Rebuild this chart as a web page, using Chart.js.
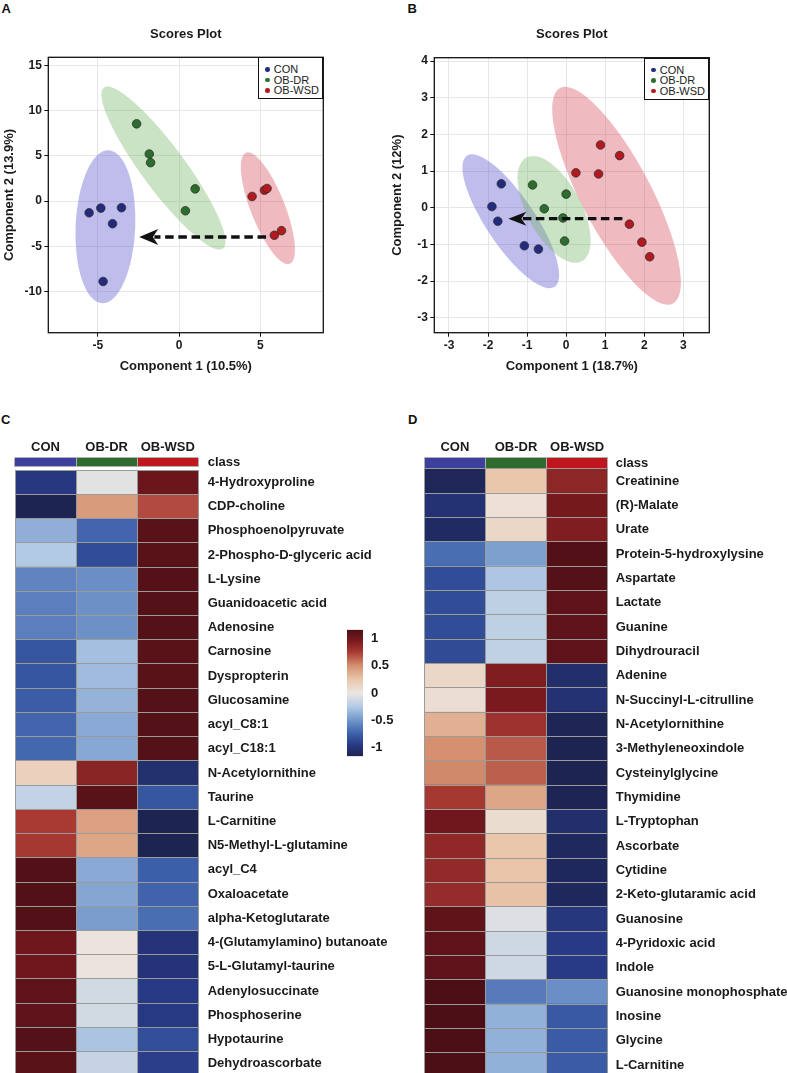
<!DOCTYPE html>
<html>
<head>
<meta charset="utf-8">
<script src="https://cdn.jsdelivr.net/npm/chart.js@4.4.1/dist/chart.umd.min.js"></script>
<style>
html,body{margin:0;padding:0;background:#fff;overflow:hidden;}
#root{position:relative;width:787px;height:1073px;overflow:hidden;background:#fff;}
canvas{position:absolute;}
.plabel{position:absolute;font:bold 13px "Liberation Sans",Arial,Helvetica,sans-serif;line-height:13px;color:#111;}
.legend{position:absolute;border:1.2px solid #111;background:#fff;box-sizing:border-box;font:11px "Liberation Sans",Arial,Helvetica,sans-serif;color:#222;}
.legend .dot{position:absolute;width:4.6px;height:4.6px;border-radius:50%;}
.legend .txt{position:absolute;line-height:12px;height:12px;white-space:nowrap;}
</style>
</head>
<body>
<div id="root">
  <div class="plabel" style="left:1.5px;top:2px;">A</div>
  <div class="plabel" style="left:407.5px;top:2px;">B</div>
  <div class="plabel" style="left:1px;top:413px;">C</div>
  <div class="plabel" style="left:408px;top:413px;">D</div>
  <canvas id="cA" width="390" height="380" style="left:0;top:0"></canvas>
  <canvas id="cB" width="397" height="380" style="left:390px;top:0"></canvas>
  <canvas id="cClassC" width="400" height="52" style="left:0;top:432px"></canvas>
  <canvas id="cClassD" width="387" height="52" style="left:400px;top:432px"></canvas>
  <canvas id="cHeatC" width="400" height="640" style="left:0;top:453px"></canvas>
  <canvas id="cHeatD" width="387" height="640" style="left:400px;top:453px"></canvas>
  <canvas id="cBar" width="80" height="158" style="left:330px;top:614px"></canvas>
</div>
<script>
// ---------------- DATA ----------------
const groups = ['CON', 'OB-DR', 'OB-WSD'];

// Panel A scores (Component 1, Component 2)
const aCONx = [-5.53, -4.81, -4.09, -3.54, -4.67];
const aCONy = [-1.29, -0.77, -2.50, -0.73, -8.90];
const aDRx  = [-2.61, -1.83, -1.75, 0.99, 0.39];
const aDRy  = [8.56, 5.22, 4.26, 1.36, -1.07];
const aWSDx = [4.49, 5.25, 5.41, 5.86, 6.30];
const aWSDy = [0.52, 1.21, 1.40, -3.78, -3.27];
const arrowAFrom = [5.35, -3.97];
const arrowATo   = [-2.45, -3.97];
const ticksAx = [-5, 0, 5];
const ticksAy = [-10, -5, 0, 5, 10, 15];

// Panel B scores
const bCONx = [-1.66, -1.90, -1.75, -1.07, -0.71];
const bCONy = [0.65, 0.03, -0.37, -1.04, -1.13];
const bDRx  = [-0.86, -0.56, 0.00, -0.08, -0.04];
const bDRy  = [0.62, -0.03, 0.37, -0.28, -0.91];
const bWSDx = [0.25, 0.88, 1.37, 0.83, 1.62, 1.94, 2.14];
const bWSDy = [0.95, 1.71, 1.42, 0.92, -0.45, -0.94, -1.34];
const arrowBFrom = [1.44, -0.30];
const arrowBTo   = [-1.48, -0.30];
const ticksBx = [-3, -2, -1, 0, 1, 2, 3];
const ticksBy = [-3, -2, -1, 0, 1, 2, 3, 4];

// Panel C heatmap
const metabolitesC = ['4-Hydroxyproline','CDP-choline','Phosphoenolpyruvate','2-Phospho-D-glyceric acid','L-Lysine','Guanidoacetic acid','Adenosine','Carnosine','Dyspropterin','Glucosamine','acyl_C8:1','acyl_C18:1','N-Acetylornithine','Taurine','L-Carnitine','N5-Methyl-L-glutamine','acyl_C4','Oxaloacetate','alpha-Ketoglutarate','4-(Glutamylamino) butanoate','5-L-Glutamyl-taurine','Adenylosuccinate','Phosphoserine','Hypotaurine','Dehydroascorbate'];
const zC_CON = [-0.97,-1.15,-0.38,-0.25,-0.58,-0.60,-0.60,-0.80,-0.80,-0.76,-0.72,-0.71,0.17,-0.18,0.75,0.76,1.13,1.13,1.13,1.00,1.00,1.08,1.08,1.12,1.10];
const zC_DR  = [-0.04,0.45,-0.72,-0.85,-0.53,-0.52,-0.52,-0.30,-0.32,-0.36,-0.40,-0.41,0.88,1.10,0.42,0.40,-0.40,-0.42,-0.46,0.02,0.02,-0.12,-0.12,-0.28,-0.17];
const zC_WSD = [1.02,0.70,1.10,1.10,1.11,1.12,1.12,1.10,1.10,1.12,1.12,1.12,-1.04,-0.80,-1.15,-1.15,-0.75,-0.73,-0.68,-1.00,-1.00,-0.95,-0.96,-0.84,-0.93];

// Panel D heatmap
const metabolitesD = ['Creatinine','(R)-Malate','Urate','Protein-5-hydroxylysine','Aspartate','Lactate','Guanine','Dihydrouracil','Adenine','N-Succinyl-L-citrulline','N-Acetylornithine','3-Methyleneoxindole','Cysteinylglycine','Thymidine','L-Tryptophan','Ascorbate','Cytidine','2-Keto-glutaramic acid','Guanosine','4-Pyridoxic acid','Indole','Guanosine monophosphate','Inosine','Glycine','L-Carnitine'];
const zD_CON = [-1.12,-1.02,-1.08,-0.68,-0.85,-0.85,-0.85,-0.86,0.12,0.07,0.35,0.50,0.52,0.76,1.00,0.86,0.85,0.84,1.07,1.08,1.08,1.15,1.15,1.15,1.15];
const zD_DR  = [0.25,0.05,0.12,-0.45,-0.27,-0.20,-0.20,-0.19,0.93,0.95,0.80,0.66,0.64,0.40,0.08,0.25,0.26,0.27,-0.06,-0.13,-0.13,-0.62,-0.37,-0.37,-0.37];
const zD_WSD = [0.87,0.97,0.93,1.13,1.12,1.08,1.08,1.08,-1.05,-1.02,-1.13,-1.15,-1.15,-1.14,-1.05,-1.10,-1.11,-1.11,-0.98,-0.95,-0.95,-0.53,-0.78,-0.77,-0.77];

// Colour key
const colorbarRange = [-1.155, 1.155];
const colorbarTicks = [1, 0.5, 0, -0.5, -1];

// ---------------- STYLE ----------------
const FF = '"Liberation Sans", Arial, Helvetica, sans-serif';
Chart.defaults.font.family = FF;
Chart.defaults.color = '#1a1a1a';
const pointColors = ['#232B7E', '#2D6D2E', '#B3191E'];
const ellipseColors = ['rgba(100,95,210,0.41)', 'rgba(110,180,95,0.37)', 'rgba(215,70,85,0.37)'];
const classColors = ['#3D3F9C', '#2F6A2F', '#C0171E'];
const palette = [[-1.155,'#1D2350'],[-0.95,'#283A85'],[-0.75,'#3C5FA9'],[-0.5,'#6F95CA'],[-0.25,'#B3CAE5'],[0,'#ECE6E2'],[0.25,'#EAC6AB'],[0.5,'#D4906F'],[0.75,'#A83A33'],[0.95,'#7A1A1E'],[1.155,'#4C0F16']];
const cellLine = '#9a9a9a';

function hexRgb(h){ return [parseInt(h.slice(1,3),16), parseInt(h.slice(3,5),16), parseInt(h.slice(5,7),16)]; }
function colorFor(v){
  if (v <= palette[0][0]) return palette[0][1];
  for (let i = 1; i < palette.length; i++) {
    if (v <= palette[i][0]) {
      const [v0,c0] = palette[i-1], [v1,c1] = palette[i];
      const t = (v - v0) / (v1 - v0), a = hexRgb(c0), b = hexRgb(c1);
      return 'rgb(' + a.map((x,k)=>Math.round(x + (b[k]-x)*t)).join(',') + ')';
    }
  }
  return palette[palette.length-1][1];
}

// ---------------- PLUGINS ----------------
// 95% confidence ellipse of each group's scores, computed through the chart's scales
const ellipsePlugin = {
  id: 'confEllipse',
  beforeDatasetsDraw(chart, args, opts) {
    const {ctx, chartArea: ca, scales: {x, y}} = chart;
    ctx.save();
    ctx.beginPath(); ctx.rect(ca.left, ca.top, ca.width, ca.height); ctx.clip();
    chart.data.datasets.forEach((ds, i) => {
      const px = ds.data.map(p => x.getPixelForValue(p.x));
      const py = ds.data.map(p => y.getPixelForValue(p.y));
      const n = px.length;
      const mx = px.reduce((a,b)=>a+b,0)/n, my = py.reduce((a,b)=>a+b,0)/n;
      let sxx=0, syy=0, sxy=0;
      for (let k=0;k<n;k++){ const dx=px[k]-mx, dy=py[k]-my; sxx+=dx*dx; syy+=dy*dy; sxy+=dx*dy; }
      sxx/=(n-1); syy/=(n-1); sxy/=(n-1);
      const tr=(sxx+syy)/2, d=Math.sqrt(((sxx-syy)/2)**2 + sxy*sxy);
      const l1=tr+d, l2=Math.max(tr-d,0);
      const ang=0.5*Math.atan2(2*sxy, sxx-syy);
      const k = Math.sqrt(opts.chi2);
      ctx.beginPath();
      ctx.ellipse(mx, my, k*Math.sqrt(l1), k*Math.sqrt(l2), ang, 0, Math.PI*2);
      ctx.fillStyle = opts.colors[i];
      ctx.fill();
    });
    ctx.restore();
  }
};

const arrowPlugin = {
  id: 'arrow',
  afterDatasetsDraw(chart, args, opts) {
    const {ctx, scales: {x, y}} = chart;
    const x0 = x.getPixelForValue(opts.from[0]), y0 = y.getPixelForValue(opts.from[1]);
    const x1 = x.getPixelForValue(opts.to[0]),   y1 = y.getPixelForValue(opts.to[1]);
    const ang = Math.atan2(y1-y0, x1-x0), c = Math.cos(ang), s = Math.sin(ang);
    const L = opts.headLength, W = opts.headWidth;
    ctx.save();
    ctx.strokeStyle = '#111'; ctx.lineWidth = opts.lineWidth; ctx.setLineDash(opts.dash);
    ctx.beginPath(); ctx.moveTo(x0, y0); ctx.lineTo(x1 - c*L*0.8, y1 - s*L*0.8); ctx.stroke();
    ctx.setLineDash([]);
    ctx.fillStyle = '#111';
    ctx.beginPath();
    ctx.moveTo(x1, y1);
    ctx.lineTo(x1 - c*L - s*W, y1 - s*L + c*W);
    ctx.lineTo(x1 - c*L*0.72, y1 - s*L*0.72);
    ctx.lineTo(x1 - c*L + s*W, y1 - s*L - c*W);
    ctx.closePath(); ctx.fill();
    ctx.restore();
  }
};

const framePlugin = {
  id: 'frame',
  afterDatasetsDraw(chart) {
    const {ctx, chartArea: ca} = chart;
    ctx.save(); ctx.strokeStyle = '#111'; ctx.lineWidth = 1.3;
    ctx.strokeRect(ca.left, ca.top, ca.width, ca.height);
    ctx.restore();
  }
};

// ---------------- SCORES PLOTS ----------------
function scoresChart(id, cfg) {
  const chart = new Chart(document.getElementById(id), {
    type: 'scatter',
    data: { datasets: groups.map((g, i) => ({
      label: g,
      data: cfg.xs[i].map((v, j) => ({x: v, y: cfg.ys[i][j]})),
      backgroundColor: pointColors[i], borderColor: '#303030', borderWidth: 0.8,
      pointRadius: 4.3, pointHoverRadius: 4.3
    }))},
    options: {
      responsive: false, animation: false, devicePixelRatio: 1, events: [],
      layout: { padding: { left: 0, right: cfg.padR, top: 0, bottom: 0 } },
      plugins: {
        legend: { display: false }, tooltip: { enabled: false },
        title: { display: true, text: 'Scores Plot', fullSize: false, color: '#1a1a1a',
                 font: { size: 13, weight: 'bold' }, padding: { top: cfg.titleTop, bottom: cfg.titleBottom } },
        confEllipse: { chi2: 5.991, colors: ellipseColors },
        arrow: cfg.arrow
      },
      scales: {
        x: { type: 'linear', min: cfg.xmin, max: cfg.xmax,
             afterBuildTicks: s => { s.ticks = cfg.xticks.map(v => ({value: v})); },
             afterFit: s => { s.height = cfg.xAxisH; },
             grid: { color: '#e6e6e6', tickColor: '#111', tickLength: 4, tickWidth: 1 },
             border: { display: false },
             ticks: { font: { size: 12, weight: 'bold' }, color: '#1a1a1a', padding: 2, maxRotation: 0, autoSkip: false },
             title: { display: true, text: cfg.xtitle, color: '#1a1a1a', font: { size: 13, weight: 'bold' }, padding: { top: 0, bottom: 5.5 } } },
        y: { type: 'linear', min: cfg.ymin, max: cfg.ymax,
             afterBuildTicks: s => { s.ticks = cfg.yticks.map(v => ({value: v})); },
             afterFit: s => { s.width = cfg.yAxisW; },
             grid: { color: '#e6e6e6', tickColor: '#111', tickLength: 4, tickWidth: 1 },
             border: { display: false },
             ticks: { font: { size: 12, weight: 'bold' }, color: '#1a1a1a', padding: 2.5, autoSkip: false },
             title: { display: true, text: cfg.ytitle, color: '#1a1a1a', font: { size: 13, weight: 'bold' }, padding: { top: cfg.yTitlePad, bottom: 0 } } }
      }
    },
    plugins: [ellipsePlugin, arrowPlugin, framePlugin]
  });
  // HTML legend in the top-right corner of the plot area
  const ca = chart.chartArea;
  const lg = document.createElement('div');
  lg.className = 'legend';
  const w = 65, h = 42;
  lg.style.left = (cfg.left + ca.right - w) + 'px';
  lg.style.top = (cfg.top + ca.top) + 'px';
  lg.style.width = w + 'px'; lg.style.height = h + 'px';
  groups.forEach((g, i) => {
    const cy = 12.4 + i * 10.5;
    const d = document.createElement('div'); d.className = 'dot';
    d.style.left = '6px'; d.style.top = (cy - 2.3 - 1.2) + 'px'; d.style.background = pointColors[i];
    const t = document.createElement('div'); t.className = 'txt';
    t.style.left = '14.5px'; t.style.top = (cy - 6 - 1.2) + 'px'; t.textContent = g;
    lg.appendChild(d); lg.appendChild(t);
  });
  document.getElementById('root').appendChild(lg);
  return chart;
}

scoresChart('cA', {
  left: 0, top: 0,
  xs: [aCONx, aDRx, aWSDx], ys: [aCONy, aDRy, aWSDy],
  padR: 66.7, yAxisW: 48.3, xAxisH: 47.3, titleTop: 26.7, titleBottom: 15, yTitlePad: 1.2,
  xmin: -8.04, xmax: 8.87, ymin: -14.57, ymax: 15.93, xticks: ticksAx, yticks: ticksAy,
  xtitle: 'Component 1 (10.5%)', ytitle: 'Component 2 (13.9%)',
  arrow: { from: arrowAFrom, to: arrowATo, headLength: 19, headWidth: 8, lineWidth: 3.3, dash: [8.5, 4.7] }
});
scoresChart('cB', {
  left: 390, top: 0,
  xs: [bCONx, bDRx, bWSDx], ys: [bCONy, bDRy, bWSDy],
  padR: 77.7, yAxisW: 44.3, xAxisH: 47.3, titleTop: 26.5, titleBottom: 15.6, yTitlePad: 0,
  xmin: -3.376, xmax: 3.666, ymin: -3.41, ymax: 4.09, xticks: ticksBx, yticks: ticksBy,
  xtitle: 'Component 1 (18.7%)', ytitle: 'Component 2 (12%)',
  arrow: { from: arrowBFrom, to: arrowBTo, headLength: 18, headWidth: 7, lineWidth: 3.2, dash: [8.5, 4.5] }
});

// ---------------- HEATMAPS ----------------
const colEdges = groups.map((g, i) => i).concat([groups.length]);

function classBar(id, cfg) {
  new Chart(document.getElementById(id), {
    type: 'bar',
    data: { labels: ['class'], datasets: groups.map((g, gi) => ({
      label: g, data: [[gi, gi + 1]], backgroundColor: classColors[gi],
      grouped: false, barPercentage: 1, categoryPercentage: 1, borderWidth: 0
    }))},
    options: {
      indexAxis: 'y', responsive: false, animation: false, devicePixelRatio: 1, events: [],
      layout: { padding: { left: cfg.padL, right: 0, top: 0, bottom: 0 } },
      plugins: { legend: { display: false }, tooltip: { enabled: false } },
      scales: {
        x: { type: 'linear', position: 'top', min: 0, max: groups.length,
             afterBuildTicks: s => { s.ticks = groups.map((g, i) => ({value: i + 0.5})); },
             afterFit: s => { s.height = 25.7; },
             grid: { offset: true, z: 1, color: '#b0b0b0', drawTicks: false },
             border: { display: false },
             ticks: { callback: (v, i) => groups[i], font: { size: 13, weight: 'bold' }, color: '#1a1a1a', padding: 2.2, autoSkip: false, maxRotation: 0 } },
        y: { position: 'right', afterFit: s => { s.width = cfg.axisW; },
             grid: { offset: true, z: 1, color: '#b0b0b0', drawTicks: false },
             border: { display: false },
             ticks: { font: { size: 13, weight: 'bold' }, color: '#1a1a1a', padding: cfg.labelPad } }
      }
    }
  });
}

function heatmap(id, rows, cols, cfg) {
  new Chart(document.getElementById(id), {
    type: 'bar',
    data: { labels: rows, datasets: groups.map((g, gi) => ({
      label: g, data: rows.map(() => [gi, gi + 1]),
      backgroundColor: cols[gi].map(colorFor),
      grouped: false, barPercentage: 1, categoryPercentage: 1, borderWidth: 0
    }))},
    options: {
      indexAxis: 'y', responsive: false, animation: false, devicePixelRatio: 1, events: [],
      layout: { padding: { left: cfg.padL, right: 0, top: 0, bottom: 0 } },
      plugins: { legend: { display: false }, tooltip: { enabled: false } },
      scales: {
        x: { type: 'linear', min: 0, max: groups.length,
             afterBuildTicks: s => { s.ticks = colEdges.map(v => ({value: v})); },
             afterFit: s => { s.height = 0; },
             grid: { z: 1, color: cellLine, drawTicks: false },
             border: { display: false },
             ticks: { display: false } },
        y: { position: 'right', afterFit: s => { s.width = cfg.axisW; },
             grid: { offset: true, z: 1, color: cellLine, drawTicks: false },
             border: { display: false },
             ticks: { font: { size: 13, weight: 'bold' }, color: '#1a1a1a', padding: cfg.labelPad, autoSkip: false } }
      }
    }
  });
}

classBar('cClassC', { padL: 15, axisW: 201.7, labelPad: 9.4 });
heatmap('cHeatC', metabolitesC, [zC_CON, zC_DR, zC_WSD], { padL: 15, axisW: 201.7, labelPad: 9.4 });
classBar('cClassD', { padL: 24.3, axisW: 179.3, labelPad: 8 });
heatmap('cHeatD', metabolitesD, [zD_CON, zD_DR, zD_WSD], { padL: 24.3, axisW: 179.3, labelPad: 8 });

// ---------------- COLOUR KEY ----------------
new Chart(document.getElementById('cBar'), {
  type: 'bar',
  data: { labels: [''], datasets: [{
    data: [colorbarRange], barPercentage: 1, categoryPercentage: 1, borderWidth: 0,
    backgroundColor: (c) => {
      const ch = c.chart, ys = ch.scales.y;
      if (!ch.chartArea || !ys) return '#ccc';
      const yb = ys.getPixelForValue(colorbarRange[0]), yt = ys.getPixelForValue(colorbarRange[1]);
      const g = ch.ctx.createLinearGradient(0, yb, 0, yt);
      palette.forEach(([v, col]) => g.addColorStop((v - colorbarRange[0]) / (colorbarRange[1] - colorbarRange[0]), col));
      return g;
    }
  }]},
  options: {
    responsive: false, animation: false, devicePixelRatio: 1, events: [],
    layout: { padding: { left: 17, right: 0, top: 0, bottom: 0 } },
    plugins: { legend: { display: false }, tooltip: { enabled: false } },
    scales: {
      x: { display: false },
      y: { position: 'right', min: colorbarRange[0], max: colorbarRange[1],
           afterBuildTicks: s => { s.ticks = colorbarTicks.map(v => ({value: v})); },
           afterFit: s => { s.width = 47; },
           grid: { display: false, drawTicks: false }, border: { display: false },
           ticks: { font: { size: 13, weight: 'bold' }, color: '#1a1a1a', padding: 8, callback: v => String(v) } }
    }
  }
});
</script>
</body>
</html>
